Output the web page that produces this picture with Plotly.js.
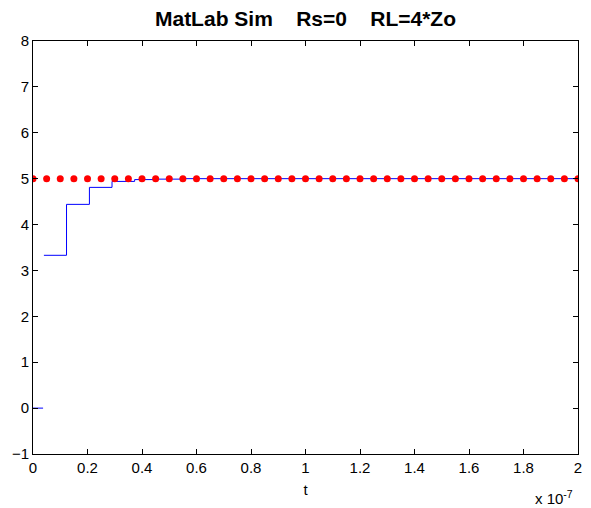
<!DOCTYPE html>
<html>
<head>
<meta charset="utf-8">
<script src="https://cdn.plot.ly/plotly-3.0.1.min.js"></script>
<style>html,body{margin:0;padding:0;background:#fff;}#plot{width:591px;height:508px;}</style>
</head>
<body>
<div id="plot"></div>
<script>
// Simulated voltage (blue step trace), time in units of 1e-7 s
const tSim = [0, 0.037, 0.04, 0.04, 0.123, 0.207, 0.29, 0.373, 0.457, 0.54, 2.0];
const vSim = [0, 0, null, 3.33, 4.44, 4.81, 4.94, 4.98, 4.99, 5.0, 5.0];
// Final value reference (red dots)
const tRef = [0, 0.05, 0.1, 0.15, 0.2, 0.25, 0.3, 0.35, 0.4, 0.45, 0.5, 0.55, 0.6, 0.65, 0.7, 0.75, 0.8, 0.85, 0.9, 0.95, 1.0,
              1.05, 1.1, 1.15, 1.2, 1.25, 1.3, 1.35, 1.4, 1.45, 1.5, 1.55, 1.6, 1.65, 1.7, 1.75, 1.8, 1.85, 1.9, 1.95, 2.0];
const vRef = [5, 5, 5, 5, 5, 5, 5, 5, 5, 5, 5, 5, 5, 5, 5, 5, 5, 5, 5, 5, 5,
              5, 5, 5, 5, 5, 5, 5, 5, 5, 5, 5, 5, 5, 5, 5, 5, 5, 5, 5, 5];
const xTicks = [0, 0.2, 0.4, 0.6, 0.8, 1, 1.2, 1.4, 1.6, 1.8, 2];
const xTickText = ['0', '0.2', '0.4', '0.6', '0.8', '1', '1.2', '1.4', '1.6', '1.8', '2'];
const yTicks = [-1, 0, 1, 2, 3, 4, 5, 6, 7, 8];

const fam = 'Liberation Sans, Arial, sans-serif';
const font = {family: fam, size: 15, color: '#000'};

const traces = [
  {x: tSim, y: vSim, mode: 'lines', line: {color: '#0000ff', width: 1, shape: 'hv'}, connectgaps: false, hoverinfo: 'skip'},
  {x: tRef, y: vRef, mode: 'markers', marker: {color: '#ff0000', size: 7}, hoverinfo: 'skip'}
];

const axisCommon = {
  showgrid: false, zeroline: false, showline: true, linecolor: '#000', linewidth: 1,
  mirror: 'ticks', ticks: 'inside', ticklen: 5, tickwidth: 1, tickcolor: '#000',
  tickfont: font
};

const layout = {
  width: 591, height: 508,
  margin: {l: 33, r: 13, t: 41, b: 54},
  paper_bgcolor: '#fff', plot_bgcolor: '#fff',
  showlegend: false,
  font: font,
  title: {text: '<b>MatLab Sim    Rs=0    RL=4*Zo</b>', font: {family: fam, size: 21, color: '#000'},
          x: 0.5, xref: 'paper', y: 0.963, yref: 'container', yanchor: 'middle'},
  xaxis: Object.assign({}, axisCommon, {
    range: [0, 2], tickvals: xTicks, ticktext: xTickText,
    title: {text: 't', font: font, standoff: 9}
  }),
  yaxis: Object.assign({}, axisCommon, {
    range: [-1, 8], tickvals: yTicks
  }),
  annotations: [
    {text: 'x 10<sup>-7</sup>', xref: 'paper', yref: 'paper', x: 0.994, y: -0.132, xanchor: 'right', yanchor: 'bottom',
     showarrow: false, font: font}
  ]
};

Plotly.newPlot('plot', traces, layout, {displayModeBar: false, staticPlot: true});
</script>
</body>
</html>
